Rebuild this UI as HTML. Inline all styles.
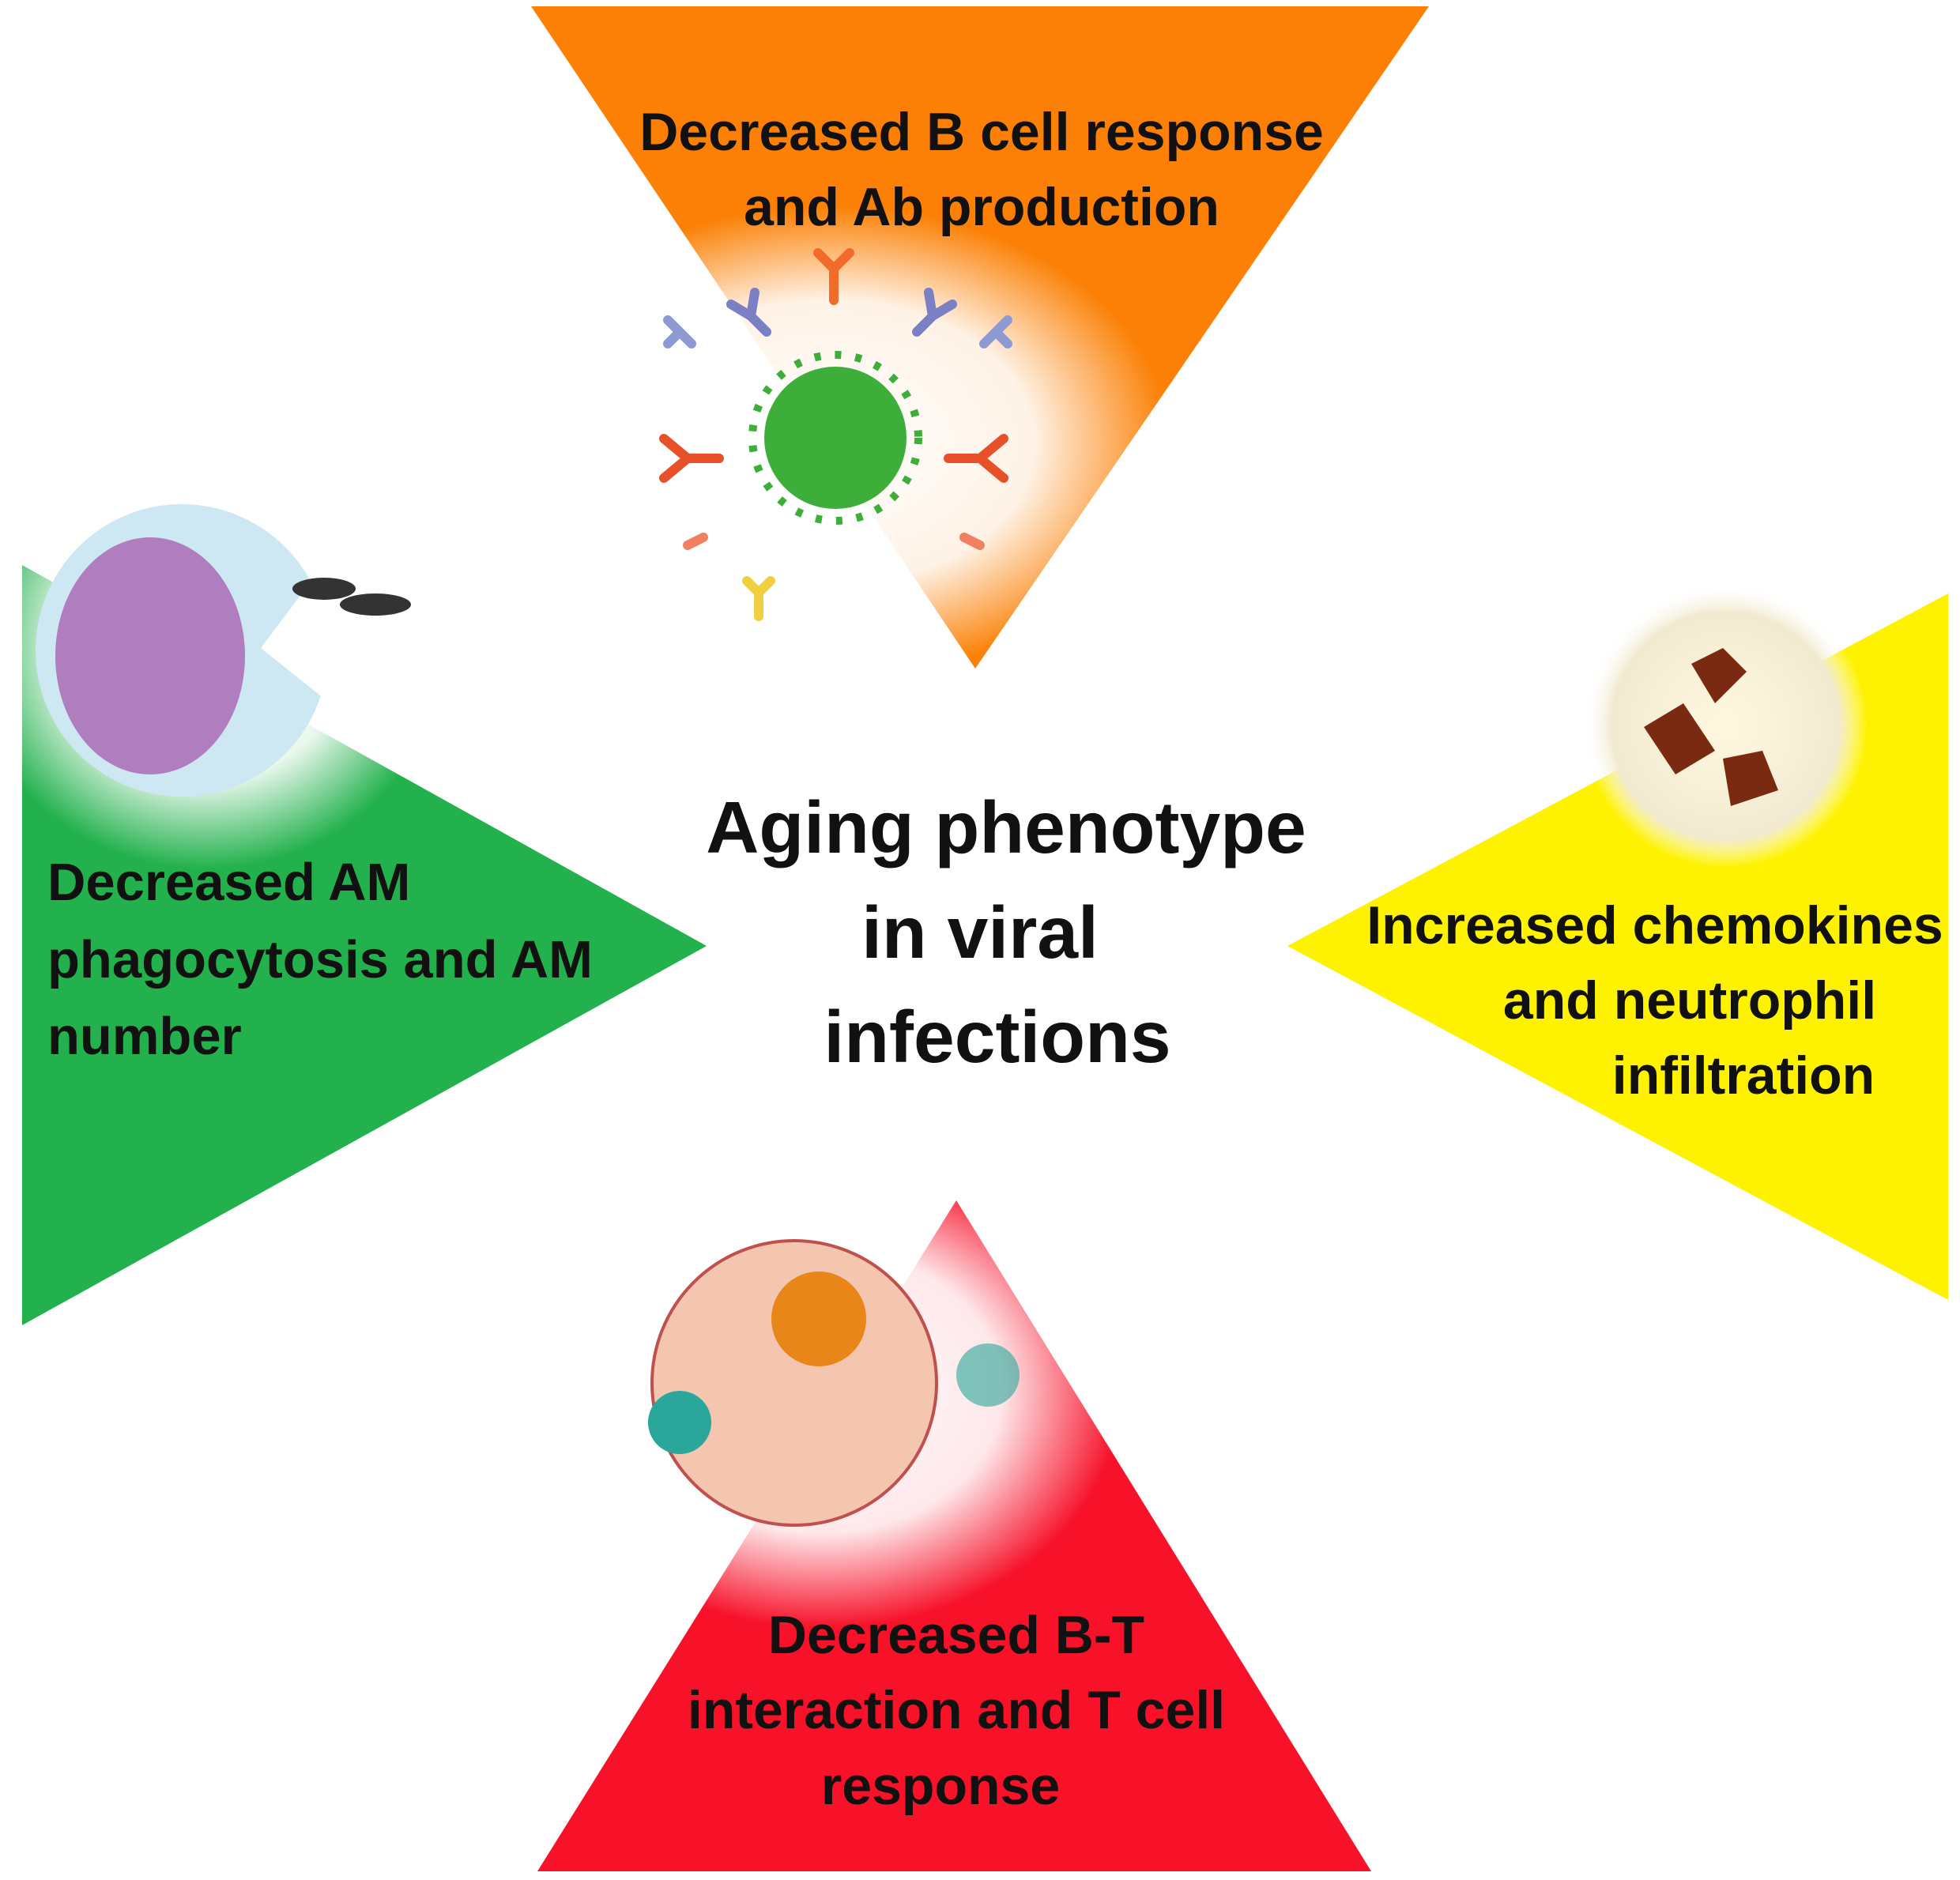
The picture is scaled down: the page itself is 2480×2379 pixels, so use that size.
<!DOCTYPE html>
<html><head><meta charset="utf-8"><style>
html,body{margin:0;padding:0;background:#fff;}
svg{display:block;}
text{font-family:"Liberation Sans",sans-serif;font-weight:bold;fill:#111;}
</style></head><body>
<svg width="2480" height="2379" viewBox="0 0 2480 2379" xmlns="http://www.w3.org/2000/svg">
<defs>
<radialGradient id="wg"><stop offset="0" stop-color="#fff" stop-opacity="1"/><stop offset="0.6" stop-color="#fff" stop-opacity="0.9"/><stop offset="1" stop-color="#fff" stop-opacity="0"/></radialGradient>
<radialGradient id="ng"><stop offset="0" stop-color="#fff8e0"/><stop offset="0.8" stop-color="#f2ead0"/><stop offset="1" stop-color="#fff" stop-opacity="0"/></radialGradient>
</defs>
<polygon points="672,8 1808,8 1234,846" fill="#fb8005"/>
<polygon points="28,715 894,1197 28,1677" fill="#22b14c"/>
<polygon points="2465,751 1629,1197 2465,1645" fill="#fef200"/>
<polygon points="1210,1519 680,2368 1735,2368" fill="#f7122a"/>
<ellipse cx="1050" cy="560" rx="430" ry="300" fill="url(#wg)"/>
<ellipse cx="260" cy="820" rx="300" ry="280" fill="url(#wg)"/>
<ellipse cx="1040" cy="1760" rx="380" ry="300" fill="url(#wg)"/>
<g stroke-linecap="round" stroke-width="12" fill="none">
<path d="M1055 340 v40 M1035 320 l20 20 l20 -20" stroke="#f26b2a"/>
<path d="M950 400 l20 20 M925 385 l25 15 l5 -30" stroke="#7b7fc4"/>
<path d="M1180 400 l-20 20 M1205 385 l-25 15 l-5 -30" stroke="#7b7fc4"/>
<path d="M870 580 h40 M840 555 l30 25 l-30 25" stroke="#e8502a"/>
<path d="M1240 580 h-40 M1270 555 l-30 25 l30 25" stroke="#e8502a"/>
<path d="M860 420 l15 15 M845 405 l15 15 l-15 15" stroke="#8e9ad4"/>
<path d="M1260 420 l-15 15 M1275 405 l-15 15 l15 15" stroke="#8e9ad4"/>
<path d="M960 750 v30 M945 735 l15 15 l15 -15" stroke="#f0d040"/>
<path d="M870 690 l20 -10" stroke="#f08060"/>
<path d="M1240 690 l-20 -10" stroke="#f08060"/>
</g>
<circle cx="1057" cy="554" r="90" fill="#3dae3a"/>
<circle cx="1057" cy="554" r="105" fill="none" stroke="#3dae3a" stroke-width="10" stroke-dasharray="8 18"/>
<circle cx="230" cy="823" r="185" fill="#cde7f3"/>
<ellipse cx="190" cy="830" rx="120" ry="150" fill="#b07dbf"/>
<polygon points="420,700 330,820 430,900" fill="#fff"/>
<ellipse cx="410" cy="745" rx="40" ry="14" fill="#333"/>
<ellipse cx="475" cy="765" rx="45" ry="14" fill="#333"/>
<circle cx="2183" cy="918" r="180" fill="url(#ng)"/>
<path d="M2140 840 l40 -20 l30 30 l-40 40 z M2080 920 l50 -30 l40 60 l-50 30 z M2180 960 l50 -10 l20 50 l-60 20 z" fill="#7a2a10"/>
<circle cx="1005" cy="1750" r="180" fill="#f4c6b0" stroke="#c0504d" stroke-width="4"/>
<circle cx="1036" cy="1669" r="60" fill="#e8861a"/>
<g fill="#2aa69a"><circle cx="860" cy="1800" r="40"/><circle cx="1250" cy="1740" r="40" opacity="0.6"/></g>
<g font-size="68" text-anchor="middle">
<text x="1242" y="190">Decreased B cell response</text>
<text x="1242" y="285">and Ab production</text>
<text x="1210" y="2092">Decreased B-T</text>
<text x="1210" y="2187">interaction and T cell</text>
<text x="1190" y="2283">response</text>
<text x="2094" y="1194">Increased chemokines</text>
<text x="2138" y="1289">and neutrophil</text>
<text x="2206" y="1384">infiltration</text>
</g>
<g font-size="67">
<text x="60" y="1139">Decreased AM</text>
<text x="60" y="1237">phagocytosis and AM</text>
<text x="60" y="1334">number</text>
</g>
<g font-size="93" text-anchor="middle">
<text x="1273" y="1079">Aging phenotype</text>
<text x="1240" y="1212">in viral</text>
<text x="1262" y="1344">infections</text>
</g>
</svg>
</body></html>
